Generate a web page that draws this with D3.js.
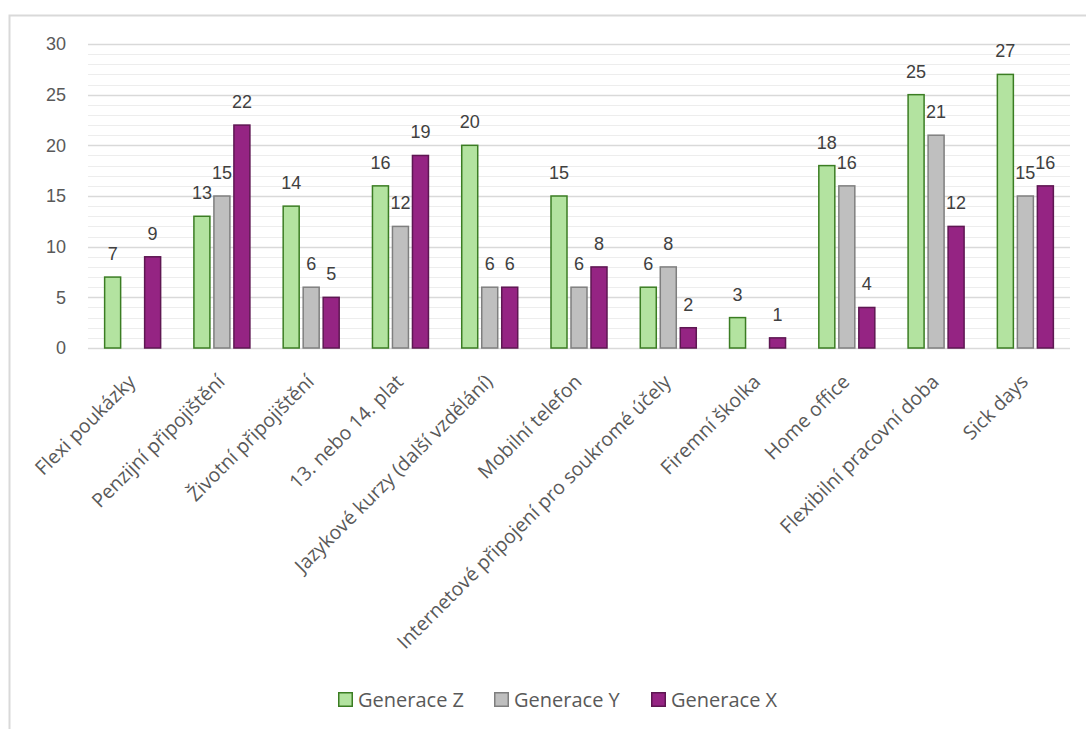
<!DOCTYPE html>
<html>
<head>
<meta charset="utf-8">
<script src="https://cdn.jsdelivr.net/npm/d3@7"></script>
<style>
  html, body { margin: 0; padding: 0; background: #fff; }
  svg { display: block; }
</style>
</head>
<body>
<svg id="chart" width="1086" height="729"></svg>
<script>
const categories = [
  "Flexi poukázky",
  "Penzijní připojištění",
  "Životní připojištění",
  "13. nebo 14. plat",
  "Jazykové kurzy (další vzdělání)",
  "Mobilní telefon",
  "Internetové připojení pro soukromé účely",
  "Firemní školka",
  "Home office",
  "Flexibilní pracovní doba",
  "Sick days"
];
const seriesNames = ["Generace Z", "Generace Y", "Generace X"];
const generaceZ = [7, 13, 14, 16, 20, 15, 6, 3, 18, 25, 27];
const generaceY = [null, 15, 6, 12, 6, 6, 8, null, 16, 21, 15];
const generaceX = [9, 22, 5, 19, 6, 8, 2, 1, 4, 12, 16];
const yTicks = [0, 5, 10, 15, 20, 25, 30];

const seriesValues = [generaceZ, generaceY, generaceX];
const fills = ["#B3E3A0", "#BFBFBF", "#952483"];
const strokes = ["#3B7D23", "#7F7F7F", "#5E1752"];

const svg = d3.select("#chart");

// chart frame
svg.append("rect")
  .attr("x", 9.5).attr("y", 15.5)
  .attr("width", 1200).attr("height", 800)
  .attr("fill", "none").attr("stroke", "#D9D9D9").attr("stroke-width", 2);

const plotLeft = 88, plotRight = 1070, plotTop = 44, plotBottom = 348;

const x = d3.scaleBand().domain(categories).range([plotLeft, plotRight]).padding(0);
const y = d3.scaleLinear().domain([0, 30]).range([plotBottom, plotTop]);
const x1 = d3.scaleBand().domain(seriesNames).range([-30, 30]).paddingInner(0.2).paddingOuter(0.1);

// minor gridlines
const minor = d3.range(1, 30).filter(v => v % 5 !== 0);
svg.append("g").selectAll("line").data(minor).join("line")
  .attr("x1", plotLeft).attr("x2", plotRight)
  .attr("y1", d => Math.round(y(d)) + 0.5).attr("y2", d => Math.round(y(d)) + 0.5)
  .attr("stroke", "#EDEDED").attr("stroke-width", 1);

// major gridlines
svg.append("g").selectAll("line").data(yTicks).join("line")
  .attr("x1", plotLeft).attr("x2", plotRight)
  .attr("y1", d => Math.round(y(d)) + 0.5).attr("y2", d => Math.round(y(d)) + 0.5)
  .attr("stroke", "#D9D9D9").attr("stroke-width", 1.3);

// y axis labels
const yAxis = d3.axisLeft(y).tickValues(yTicks).tickSize(0).tickPadding(0);
const yg = svg.append("g").attr("transform", `translate(66,0)`).call(yAxis);
yg.select(".domain").remove();
yg.selectAll("text")
  .attr("font-family", "Liberation Sans, Arial, sans-serif")
  .attr("font-size", 18).attr("fill", "#595959");

// bars
const groups = svg.append("g").selectAll("g").data(categories).join("g")
  .attr("transform", d => `translate(${x(d) + x.bandwidth() / 2},0)`);

groups.each(function(cat, ci) {
  const g = d3.select(this);
  seriesNames.forEach((s, si) => {
    const v = seriesValues[si][ci];
    if (v === null || v === undefined) return;
    g.append("rect")
      .attr("x", x1(s))
      .attr("y", y(v))
      .attr("width", x1.bandwidth())
      .attr("height", y(0) - y(v))
      .attr("fill", fills[si])
      .attr("stroke", strokes[si])
      .attr("stroke-width", 1.5);
    g.append("text")
      .attr("x", x1(s) + x1.bandwidth() / 2)
      .attr("y", y(v) - 17)
      .attr("text-anchor", "middle")
      .attr("font-family", "Liberation Sans, Arial, sans-serif")
      .attr("font-size", 18)
      .attr("fill", "#404040")
      .text(v);
  });
});

// x axis category labels
const xAxis = d3.axisBottom(x).tickSize(0).tickPadding(0);
const xg = svg.append("g").attr("transform", `translate(0,${plotBottom})`).call(xAxis);
xg.select(".domain").remove();
xg.selectAll(".tick text")
  .attr("text-anchor", "end")
  .attr("dy", null)
  .attr("y", 0)
  .attr("transform", "translate(4,35) rotate(-45)")
  .attr("font-family", "Open Sans, sans-serif")
  .attr("font-size", 19.5)
  .attr("fill", "#595959");

// legend
const legendX = [338, 494, 651];
const legend = svg.append("g").selectAll("g").data(seriesNames).join("g")
  .attr("transform", (d, i) => `translate(${legendX[i]},692)`);
legend.append("rect")
  .attr("x", 0.75).attr("y", 0.75)
  .attr("width", 13.5).attr("height", 13.5)
  .attr("fill", (d, i) => fills[i])
  .attr("stroke", (d, i) => strokes[i])
  .attr("stroke-width", 1.5);
legend.append("text")
  .attr("x", 20).attr("y", 15)
  .attr("font-family", "Open Sans, sans-serif")
  .attr("font-size", 20)
  .attr("fill", "#595959")
  .text(d => d);
</script>
</body>
</html>
